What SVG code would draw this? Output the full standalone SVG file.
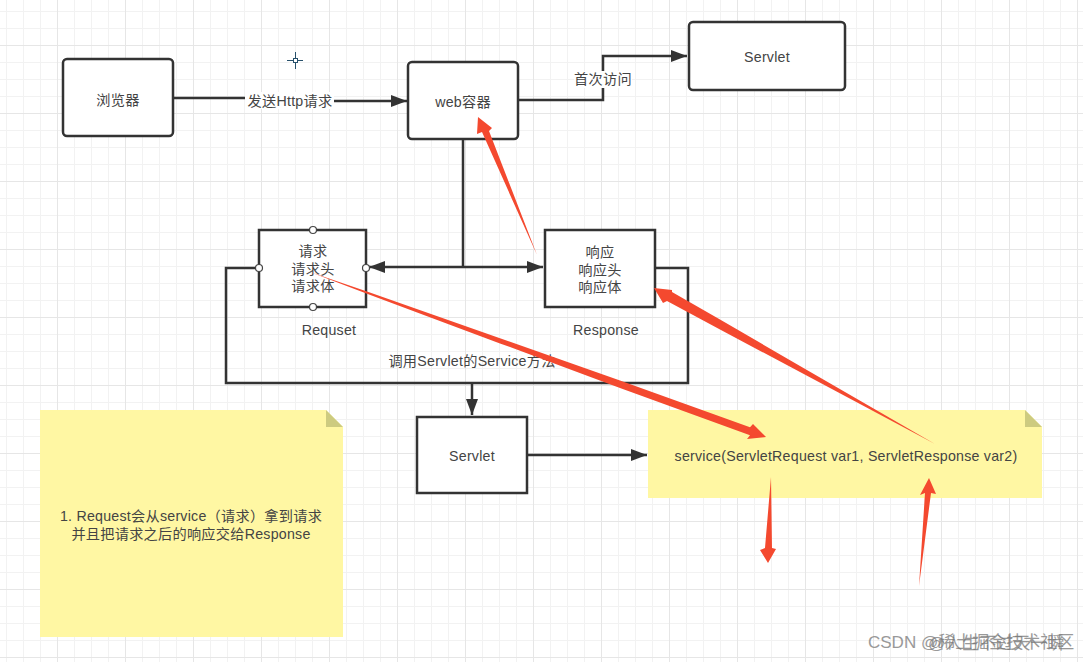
<svg xmlns="http://www.w3.org/2000/svg" width="1083" height="662" viewBox="0 0 1083 662">
<style>
text{font-family:"Liberation Sans","Noto Sans CJK SC",sans-serif;font-size:14.2px;letter-spacing:.25px;fill:#444;text-anchor:middle}
.box{fill:#fff;stroke:#333;stroke-width:2.5}
.line{fill:none;stroke:#333;stroke-width:2.5}
.port{fill:#fff;stroke:#444;stroke-width:1.2}
.note{fill:#fff7a3}
.fold{fill:#cdcb80}
.red{fill:#f4492f}
.lab{fill:#fff}
text.wm{fill:#777;font-size:17px;text-anchor:start;opacity:.75;letter-spacing:0}
</style>
<defs>
<pattern id="grid" patternUnits="userSpaceOnUse" x="-11" y="-23" width="68" height="68">
<path d="M17.5 0V68M34.5 0V68M51.5 0V68M0 17.5H68M0 34.5H68M0 51.5H68" stroke="#f2f2f2" stroke-width="1" fill="none"/>
<path d="M0.5 0V68M0 0.5H68" stroke="#e6e6e6" stroke-width="1" fill="none"/>
</pattern>
<marker id="arr" viewBox="0 0 16 12" refX="16" refY="6" markerWidth="16" markerHeight="12" markerUnits="userSpaceOnUse" orient="auto-start-reverse">
<path d="M0 0L16 6L0 12Z" fill="#333"/>
</marker>
</defs>
<rect width="1083" height="662" fill="#fff"/>
<rect width="1083" height="662" fill="url(#grid)"/>
<g id="connectors">
<path class="line" d="M173 98H246" />
<path class="line" d="M333 101H407" marker-end="url(#arr)"/>
<path class="line" d="M519 100H603V56H687" marker-end="url(#arr)"/>
<path class="line" d="M463 139V267"/>
<path class="line" d="M369 267H543" marker-start="url(#arr)" marker-end="url(#arr)"/>
<path class="line" d="M258 268H226V383H688V268H655"/>
<path class="line" d="M472 383V415" marker-end="url(#arr)"/>
<path class="line" d="M527 455H647" marker-end="url(#arr)"/>
</g>
<g id="cursor" fill="none" stroke="#27506b" stroke-width="1">
<path d="M287 60.5H303M295.500 52V69"/>
<rect x="293.500" y="58.500" width="4" height="4" fill="#fff"/>
</g>
<g id="browser"><rect class="box" x="63" y="59" width="110" height="77" rx="4"/><text x="118" y="105">浏览器</text></g>
<g id="label-http"><rect class="lab" x="245" y="92" width="89" height="17"/><text x="290" y="106">发送Http请求</text></g>
<g id="web"><rect class="box" x="408" y="62" width="110" height="77" rx="4"/><text x="463" y="107">web容器</text></g>
<g id="label-first"><rect class="lab" x="574" y="71" width="58" height="17"/><text x="603" y="84">首次访问</text></g>
<g id="servlet-top"><rect class="box" x="689" y="22" width="156" height="68" rx="4"/><text x="767" y="62">Servlet</text></g>
<g id="request"><rect class="box" x="259" y="230" width="107" height="77"/>
<text x="313" y="256">请求</text><text x="313" y="274">请求头</text><text x="313" y="291">请求体</text>
<circle class="port" cx="313" cy="230" r="3.500"/><circle class="port" cx="259" cy="268" r="3.500"/><circle class="port" cx="366" cy="268" r="3.500"/><circle class="port" cx="313" cy="307" r="3.500"/></g>
<g id="response"><rect class="box" x="545" y="230" width="110" height="77"/>
<text x="600" y="257">响应</text><text x="600" y="275">响应头</text><text x="600" y="292">响应体</text></g>
<g id="label-requset"><text x="329" y="335">Requset</text></g>
<g id="label-response"><text x="606" y="335">Response</text></g>
<g id="label-call"><text x="472" y="366">调用Servlet的Service方法</text></g>
<g id="servlet-bottom"><rect class="box" x="417" y="417" width="110" height="76"/><text x="472" y="461">Servlet</text></g>
<g id="note-left"><path class="note" d="M40 410H326L343 427V637H40Z"/><path class="fold" d="M326 410L343 427H326Z"/>
<text x="191" y="521">1. Request会从service（请求）拿到请求</text><text x="191" y="539">并且把请求之后的响应交给Response</text></g>
<g id="note-right"><path class="note" d="M648 410H1025L1042 427V498H648Z"/><path class="fold" d="M1025 410L1042 427H1025Z"/>
<text x="846" y="461">service(ServletRequest var1, ServletResponse var2)</text></g>
<g id="red-arrows">
<path class="red" d="M478 117L492 128L489 131L537 255L482 132L477 134Z"/>
<path class="red" d="M310 272L367 291.400L500 338.200L620 380.500L750 427.300L753 424L766 437L747 439L750 435.300L620 387.900L500 343.400L367 293.800Z"/>
<path class="red" d="M935 444L800 366L720 319.600L672 292L672 290L654 288L663 303L667 301L720 329.600L800 372Z"/>
<path class="red" d="M771 477L772 548L776 549L768 563L760 550L765 548Z"/>
<path class="red" d="M919 586L925 493L920 495L929 478L936 494L931 493Z"/>
</g>
<g id="watermark"><text class="wm" x="868" y="648">CSDN @稀土掘金技术社区</text><text class="wm" x="928" y="649">@人生不过天一瞬</text></g>
</svg>
